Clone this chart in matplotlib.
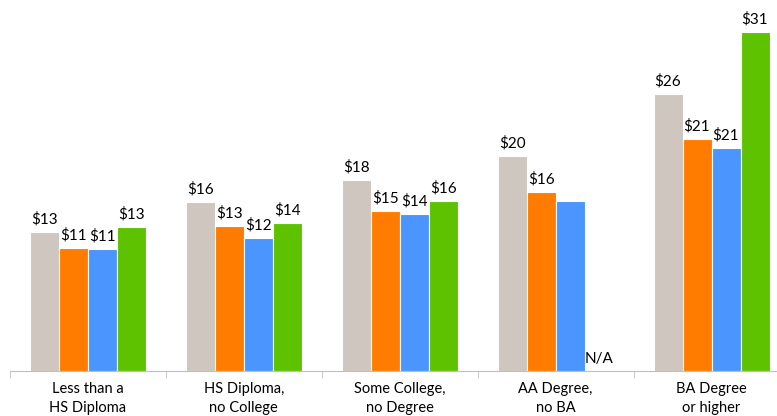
import numpy as np
import matplotlib.pyplot as plt

# 类别与数值
categories = ['Less than a\nHS Diploma', 'HS Diploma,\nno College', 'Some College,\nno Degree',
              'AA Degree,\nno BA', 'BA Degree\nor higher']
gray_vals = [12.7, 15.4, 17.4, 19.6, 25.3]
orange_vals = [11.2, 13.2, 14.6, 16.3, 21.2]
blue_vals = [11.1, 12.1, 14.3, 15.5, 20.4]
green_vals = [13.1, 13.5, 15.5, np.nan, 31.0]

gray_labels = ['$13', '$16', '$18', '$20', '$26']
orange_labels = ['$11', '$13', '$15', '$16', '$21']
blue_labels = ['$11', '$12', '$14', '', '$21']
green_labels = ['$13', '$14', '$16', 'N/A', '$31']

series = [
    (gray_vals, gray_labels, '#CEC6BF'),
    (orange_vals, orange_labels, '#FF7C00'),
    (blue_vals, blue_labels, '#4A95FF'),
    (green_vals, green_labels, '#5EC200'),
]

plt.rcParams['font.family'] = ['Lato', 'DejaVu Sans']

fig = plt.figure(figsize=(7.77, 4.16), dpi=100)
ax = fig.add_axes([10 / 777, 0.109, 767 / 777, 0.891])

x = np.arange(len(categories))
w = 0.186
for k, (vals, labels, color) in enumerate(series):
    pos = x + (k - 1.5) * w
    heights = [0 if np.isnan(v) else v for v in vals]
    ax.bar(pos, heights, width=w, color=color, edgecolor='white', linewidth=0.8)
    for p, v, lab in zip(pos, vals, labels):
        if not lab:
            continue
        if np.isnan(v):
            ax.text(p, 0.4, lab, ha='center', va='bottom', fontsize=11)
        else:
            ax.text(p, v + 0.5, lab, ha='center', va='bottom', fontsize=11)

ax.set_xlim(-0.5, 4.42)
ax.set_ylim(0, 33.9)
for s in ['top', 'right', 'left']:
    ax.spines[s].set_visible(False)
ax.spines['bottom'].set_color('#BFBFBF')
ax.set_yticks([])
ax.set_xticks(x)
ax.set_xticklabels(categories, fontsize=10.5, linespacing=1.45)
ax.tick_params(axis='x', which='major', length=0, pad=8)
ax.set_xticks(np.arange(-0.5, 4, 1), minor=True)
ax.tick_params(axis='x', which='minor', length=5, color='#BFBFBF')

fig.savefig('out.png', dpi=100)
